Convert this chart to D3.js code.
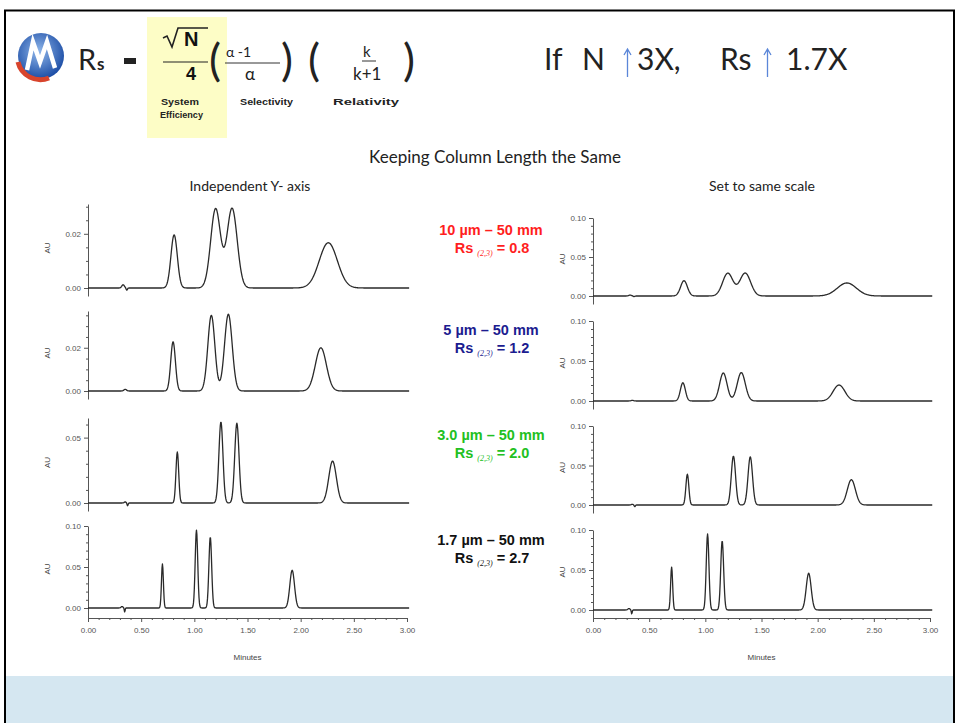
<!DOCTYPE html>
<html><head><meta charset="utf-8">
<script src="https://cdn.jsdelivr.net/npm/d3@7"></script>
<style>body{margin:0;background:#fff} svg{display:block}</style>
</head><body>
<svg id="c" width="959" height="723"></svg>
<script>
// ---------------- DATA ----------------
const columnLabels = ["10 µm – 50 mm", "5 µm – 50 mm", "3.0 µm – 50 mm", "1.7 µm – 50 mm"];
const rsValues = ["0.8", "1.2", "2.0", "2.7"];
// peak tables per column: retention time (min), height (AU), peak sigma (min)
const peakTimes = [
  [0.33, 0.365, 0.81, 1.20, 1.355, 2.26],
  [0.35, 0.80, 1.16, 1.32, 2.19],
  [0.35, 0.372, 0.84, 1.25, 1.40, 2.30],
  [0.32, 0.345, 0.70, 1.02, 1.15, 1.92]
];
const peakHeights = [
  [0.0012, -0.0008, 0.0196, 0.0292, 0.0294, 0.0167],
  [0.0008, 0.0228, 0.0350, 0.0355, 0.0200],
  [0.0008, -0.0022, 0.039, 0.062, 0.061, 0.032],
  [0.0018, -0.005, 0.0537, 0.095, 0.0866, 0.046]
];
const peakSigmas = [
  [0.012, 0.006, 0.030, 0.046, 0.048, 0.085],
  [0.012, 0.022, 0.033, 0.036, 0.052],
  [0.010, 0.005, 0.013, 0.019, 0.020, 0.036],
  [0.010, 0.004, 0.009, 0.012, 0.013, 0.022]
];
const leftYMax = [0.031, 0.037, 0.065, 0.10];
const leftYTicks = [[0, 0.02], [0, 0.02], [0, 0.05], [0, 0.05, 0.10]];
const leftYMinorStep = [0.005, 0.005, 0.01, 0.01];
const rightYTicks = [0, 0.05, 0.10];
const xTicks = [0, 0.5, 1, 1.5, 2, 2.5, 3];
const runEnd = 3.02;

// ---------------- LAYOUT / STYLE ----------------
const W = 959, H = 723;
const leftX = [88, 407], rightX = [593, 930];
const leftZeroY = [288, 391, 503, 608], leftTopY = [204, 311, 418, 526];
const rightZeroY = [296, 401, 505, 610], rightTopY = [218, 321, 426, 530];
const xAxisY = 618;
const labelColors = ["#ff1e1e", "#1c1c90", "#22c022", "#111111"];
const labelY = [235, 335, 440, 545];
const traceColor = "#2a2a2a";
const axisColor = "#555";
const tickFont = "Liberation Sans, Arial, sans-serif";

const svg = d3.select("#c");

// frame and bottom band
svg.append("rect").attr("x", 6).attr("y", 676).attr("width", 947).attr("height", 47).attr("fill", "#d5e7f1");
svg.append("path").attr("d", "M5,723 V10.5 H954 V723").attr("fill", "none").attr("stroke", "#000").attr("stroke-width", 2);

// ---------------- HEADER ----------------
const defs = svg.append("defs");
const rg = defs.append("radialGradient").attr("id", "lg").attr("cx", "45%").attr("cy", "40%").attr("r", "60%");
rg.append("stop").attr("offset", "0%").attr("stop-color", "#8fb6ea");
rg.append("stop").attr("offset", "100%").attr("stop-color", "#1d4ea6");
const logo = svg.append("g").attr("transform", "translate(41,56)");
logo.append("circle").attr("r", 23).attr("fill", "url(#lg)");
logo.append("path").attr("d", "M-23,6 A23,23 0 0 0 8,22").attr("fill", "none").attr("stroke", "#d8442c").attr("stroke-width", 5);
logo.append("path").attr("d", "M-14,14 L-8,-14 L-1,6 L6,-14 L14,12").attr("fill", "none").attr("stroke", "#fff").attr("stroke-width", 4.5).attr("stroke-linejoin", "miter");

const hf = "Lato, 'Open Sans', sans-serif";
svg.append("text").attr("x", 78).attr("y", 70).attr("font-family", hf).attr("font-size", 29).attr("fill", "#222").text("R");
svg.append("text").attr("x", 97).attr("y", 70).attr("font-family", hf).attr("font-size", 17).attr("font-weight", 700).attr("fill", "#222").text("s");
svg.append("rect").attr("x", 124).attr("y", 58).attr("width", 12).attr("height", 6).attr("fill", "#222");

svg.append("rect").attr("x", 147).attr("y", 17).attr("width", 80).attr("height", 121).attr("fill", "#fdfdc6");
// sqrt N over 4
svg.append("path").attr("d", "M163,38 L167,36 L172,47 L178,28 L208,28").attr("fill", "none").attr("stroke", "#222").attr("stroke-width", 1.6);
svg.append("text").attr("x", 184).attr("y", 46).attr("font-family", "Liberation Sans, Arial").attr("font-weight", 700).attr("font-size", 20).attr("fill", "#111").text("N");
svg.append("line").attr("x1", 163).attr("x2", 208).attr("y1", 62).attr("y2", 62).attr("stroke", "#222").attr("stroke-width", 1.2);
svg.append("text").attr("x", 186).attr("y", 80).attr("font-family", "Liberation Sans, Arial").attr("font-weight", 700).attr("font-size", 18).attr("fill", "#111").text("4");

function paren(x, ch) {
  svg.append("text").attr("x", x).attr("y", 76).attr("font-family", hf).attr("font-size", 45).attr("fill", "#222").text(ch);
}
paren(209, "(");
svg.append("text").attr("x", 226).attr("y", 57).attr("font-family", hf).attr("font-size", 14).attr("fill", "#222").text("α -1");
svg.append("line").attr("x1", 225).attr("x2", 280).attr("y1", 63).attr("y2", 63).attr("stroke", "#333").attr("stroke-width", 1);
svg.append("text").attr("x", 245).attr("y", 80).attr("font-family", hf).attr("font-size", 17).attr("fill", "#222").text("α");
paren(281, ")");
paren(308, "(");
svg.append("text").attr("x", 363).attr("y", 57).attr("font-family", hf).attr("font-size", 15).attr("fill", "#222").text("k");
svg.append("line").attr("x1", 362).attr("x2", 376).attr("y1", 61).attr("y2", 61).attr("stroke", "#333").attr("stroke-width", 1);
svg.append("text").attr("x", 353).attr("y", 80).attr("font-family", hf).attr("font-size", 17).attr("fill", "#222").text("k+1");
paren(403, ")");

const lab = (x, y, t, len) => svg.append("text").attr("x", x).attr("y", y).attr("font-family", "Liberation Sans, Arial").attr("font-weight", 700)
  .attr("font-size", 9).attr("fill", "#222").attr("textLength", len).attr("lengthAdjust", "spacingAndGlyphs").text(t);
lab(161, 105, "System", 38);
lab(160, 118, "Efficiency", 43);
lab(240, 105, "Selectivity", 53);
lab(333, 105, "Relativity", 66);

// right header
const rf = (x, t) => svg.append("text").attr("x", x).attr("y", 70).attr("font-family", hf).attr("font-size", 30).attr("fill", "#222").text(t);
rf(544, "If");
rf(582, "N");
rf(637, "3X,");
rf(720, "Rs");
rf(786, "1.7X");
function arrow(x) {
  svg.append("path").attr("d", `M${x},77 V50 M${x - 3.5},55 L${x},49 L${x + 3.5},55`).attr("fill", "none").attr("stroke", "#5a86d8").attr("stroke-width", 1.3);
}
arrow(627.5);
arrow(767.5);

svg.append("text").attr("x", 495).attr("y", 163).attr("text-anchor", "middle").attr("font-family", hf).attr("font-size", 17).attr("fill", "#222").text("Keeping Column Length the Same");
svg.append("text").attr("x", 250).attr("y", 191).attr("text-anchor", "middle").attr("font-family", hf).attr("font-size", 14).attr("fill", "#222").text("Independent Y- axis");
svg.append("text").attr("x", 762).attr("y", 191).attr("text-anchor", "middle").attr("font-family", hf).attr("font-size", 14).attr("fill", "#222").text("Set to same scale");

// ---------------- CHROMATOGRAMS ----------------
const samples = d3.range(0, runEnd + 1e-9, 0.004);
function traceData(i) {
  return samples.map(t => {
    let v = 0;
    for (let k = 0; k < peakTimes[i].length; k++) {
      const d = t - peakTimes[i][k];
      v += peakHeights[i][k] * Math.exp(-d * d / (2 * peakSigmas[i][k] * peakSigmas[i][k]));
    }
    return [t, v];
  });
}

function drawPanel(i, xr, zeroY, topY, yMax, majors, minorStep, showX, auX) {
  const x = d3.scaleLinear().domain([0, 3]).range(xr);
  const y0 = d3.scaleLinear().domain([0, yMax]).range([zeroY, topY]);
  const bottomPx = showX ? xAxisY : zeroY + 8;
  const y = d3.scaleLinear().domain([y0.invert(bottomPx), yMax]).range([bottomPx, topY]);
  const g = svg.append("g");

  const minors = d3.range(0, yMax + 1e-9, minorStep).filter(v => !majors.some(m => Math.abs(m - v) < 1e-9));
  const ax = g.append("g").attr("transform", `translate(${xr[0]},0)`)
    .call(d3.axisLeft(y).tickValues(majors).tickFormat(d3.format(".2f")).tickSize(4).tickSizeOuter(0).tickPadding(3));
  ax.selectAll("path,line").attr("stroke", axisColor);
  ax.selectAll("text").attr("font-family", tickFont).attr("font-size", 8).attr("fill", "#555");
  const mx = g.append("g").attr("transform", `translate(${xr[0]},0)`)
    .call(d3.axisLeft(y).tickValues(minors).tickFormat("").tickSize(2).tickSizeOuter(0));
  mx.select(".domain").remove();
  mx.selectAll("line").attr("stroke", axisColor);

  g.append("text").attr("transform", `translate(${auX},${(zeroY + topY) / 2 + 2}) rotate(-90)`)
    .attr("text-anchor", "middle").attr("font-family", tickFont).attr("font-size", 8).attr("fill", "#444").text("AU");

  if (showX) {
    const xa = g.append("g").attr("transform", `translate(0,${xAxisY})`)
      .call(d3.axisBottom(x).tickValues(xTicks).tickFormat(d3.format(".2f")).tickSize(4).tickSizeOuter(0).tickPadding(5));
    xa.selectAll("path,line").attr("stroke", axisColor);
    xa.selectAll("text").attr("font-family", tickFont).attr("font-size", 8).attr("fill", "#555");
    const xm = g.append("g").attr("transform", `translate(0,${xAxisY})`)
      .call(d3.axisBottom(x).tickValues(d3.range(0.1, 3, 0.1).filter(v => Math.abs(v * 2 - Math.round(v * 2)) > 1e-6)).tickFormat("").tickSize(2).tickSizeOuter(0));
    xm.select(".domain").remove();
    xm.selectAll("line").attr("stroke", axisColor);
    g.append("text").attr("x", (xr[0] + xr[1]) / 2).attr("y", 660).attr("text-anchor", "middle")
      .attr("font-family", tickFont).attr("font-size", 8).attr("fill", "#444").text("Minutes");
  }

  const line = d3.line().x(d => x(d[0])).y(d => y(d[1]));
  g.append("path").datum(traceData(i)).attr("d", line).attr("fill", "none")
    .attr("stroke", traceColor).attr("stroke-width", 1.3).attr("stroke-linejoin", "round");
}

for (let i = 0; i < 4; i++) {
  drawPanel(i, leftX, leftZeroY[i], leftTopY[i], leftYMax[i], leftYTicks[i], leftYMinorStep[i], i === 3, 50);
  drawPanel(i, rightX, rightZeroY[i], rightTopY[i], 0.10, rightYTicks, 0.01, i === 3, 565);
}

// ---------------- COLUMN LABELS ----------------
for (let i = 0; i < 4; i++) {
  const c = labelColors[i];
  svg.append("text").attr("x", 491).attr("y", labelY[i]).attr("text-anchor", "middle")
    .attr("font-family", "Liberation Sans, Arial").attr("font-weight", 700).attr("font-size", 14.5).attr("fill", c).text(columnLabels[i]);
  const t = svg.append("text").attr("x", 492).attr("y", labelY[i] + 18).attr("text-anchor", "middle")
    .attr("font-family", "Liberation Sans, Arial").attr("font-weight", 700).attr("font-size", 14.5).attr("fill", c);
  t.append("tspan").text("Rs ");
  t.append("tspan").attr("font-family", "Liberation Serif, Times New Roman, serif").attr("font-style", "italic").attr("font-weight", 400)
    .attr("font-size", 8).attr("dy", 3).text("(2,3)");
  t.append("tspan").attr("dy", -3).text(" = " + rsValues[i]);
}
</script>
</body></html>
